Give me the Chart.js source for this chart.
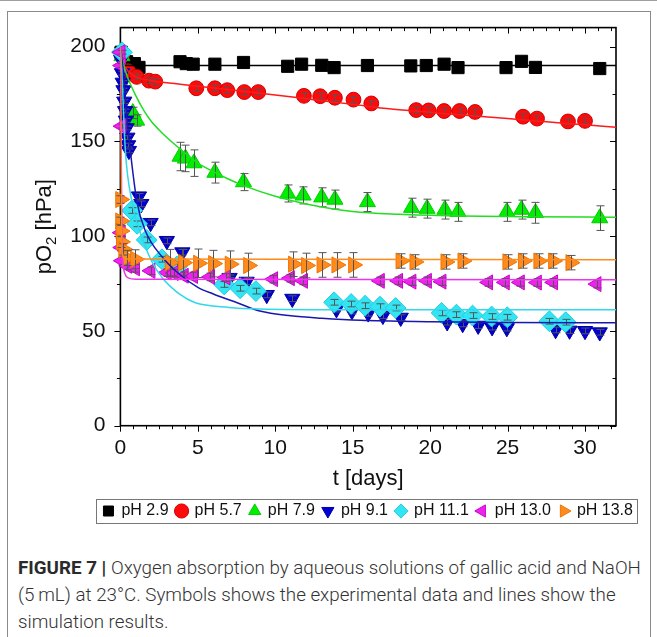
<!DOCTYPE html>
<html>
<head>
<meta charset="utf-8">
<script src="https://cdn.jsdelivr.net/npm/chart.js@4.4.1/dist/chart.umd.min.js"></script>
<style>
  html, body { margin: 0; padding: 0; background: #fff; }
  body { width: 657px; height: 637px; position: relative; overflow: hidden; }
  #topline { position: absolute; left: 0; top: 0; width: 657px; height: 1px; background: #a0a0a0; }
  #frame { position: absolute; left: 7px; top: 11px; width: 644px; height: 700px; border: 1px solid #8a8a8a; box-sizing: border-box; }
  #plot { position: absolute; left: 0; top: 0; }
  #caption { position: absolute; left: 18px; top: 555px; color: #333; font-family: "Roboto", "Liberation Sans", sans-serif; font-weight: 300; font-size: 17px; line-height: 27px; white-space: nowrap; }
  #caption b { font-weight: 700; color: #2a2a2a; }
</style>
</head>
<body>
<div id="topline"></div>
<div id="frame"></div>
<canvas id="plot" width="657" height="540"></canvas>
<div id="caption">
  <div id="cap1"><b>FIGURE 7 |</b> Oxygen absorption by aqueous solutions of gallic acid and NaOH</div>
  <div>(5&#8201;mL) at 23&deg;C. Symbols shows the experimental data and lines show the</div>
  <div>simulation results.</div>
</div>
<script>
// ---- measured oxygen partial pressure (t in days, pO2 in hPa, err = error bar half-height) ----
const t29 = [0.05, 0.4, 0.9, 1.2, 3.85, 4.25, 4.7, 6.1, 7.95, 10.8, 11.7, 13.0, 13.8, 15.95, 18.75, 19.75, 20.9, 21.8, 24.9, 25.9, 26.8, 30.95];
const p29 = [197, 192, 191, 189, 192, 191, 190.7, 190.7, 191.6, 189.6, 190.7, 190.1, 188.9, 190, 189.8, 190, 190.7, 188.9, 188.9, 192.2, 189, 188.4];

const t57 = [0.1, 0.5, 1.05, 1.85, 2.25, 4.9, 6.1, 6.9, 8.0, 8.9, 11.85, 12.9, 13.85, 15.05, 16.2, 19.1, 19.9, 20.9, 21.9, 22.9, 26.0, 26.9, 28.9, 30.0];
const p57 = [195, 187, 184, 182, 181.5, 178, 178, 177, 176, 176, 174, 173.8, 173, 172, 170, 166.5, 166.3, 166, 166, 165.5, 163, 162, 160.5, 160.8];
const e57 = [1, 1, 1.5, 1.5, 1.5, 1.5, 1.5, 1.5, 1.5, 1.5, 1.5, 1.5, 1.5, 1.5, 1.5, 1.5, 1.5, 1.5, 1.5, 1.5, 1.5, 1.5, 1.5, 1.5];

const t79 = [0.1, 0.8, 1.05, 3.85, 4.2, 4.75, 6.1, 7.95, 10.8, 11.8, 13.0, 13.85, 15.95, 18.8, 19.8, 20.95, 21.8, 24.95, 25.9, 26.8, 30.95];
const p79 = [195, 165, 161, 142, 141, 138.5, 133.5, 128.5, 122.5, 121.5, 120.5, 119.3, 118, 115, 114.5, 114, 112.8, 112.8, 114, 112.3, 109.5];
const e79 = [2, 3, 3, 7.5, 7, 7, 5.5, 4.5, 4.5, 4.5, 5, 5, 5, 5, 5, 5, 5, 5, 5, 5.5, 6.5];

const t91 = [0.05, 0.1, 0.15, 0.2, 0.25, 0.3, 0.35, 0.4, 0.45, 0.5, 0.55, 1.2, 1.35, 1.95, 3.0, 4.0, 7.05, 8.15, 9.45, 11.1, 13.95, 14.95, 16.0, 16.95, 18.1, 21.1, 22.1, 23.1, 24.0, 24.95, 28.1, 29.0, 30.0, 30.95];
const p91 = [193, 186, 181, 177, 171, 166, 161, 157, 152, 148, 145, 121, 117, 107, 97.5, 91.5, 78, 76, 69, 67, 61.5, 60.5, 59.3, 58, 57, 54.6, 53.7, 52.8, 52, 51.5, 50.5, 50.2, 50, 49.3];
const e91 = [1, 1, 1, 1, 1, 1, 1, 1, 1, 1, 1, 1.5, 1.5, 1.5, 1.5, 1.5, 1.5, 1.5, 1.5, 1.5, 1.5, 1.5, 1.5, 1.5, 1.5, 1.5, 1.5, 1.5, 1.5, 1.5, 1.5, 1.5, 1.5, 1.5];

const t111 = [0.1, 0.75, 1.08, 1.7, 2.68, 3.65, 6.7, 7.73, 8.75, 13.8, 14.9, 15.8, 16.76, 17.77, 20.74, 21.7, 22.74, 23.97, 24.98, 27.7, 28.75];
const p111 = [197, 113.5, 106.5, 98, 87.8, 84, 74.5, 72.5, 71, 65.1, 64.2, 63.3, 62.8, 62.1, 59.5, 58.6, 58.1, 57.6, 57.2, 55.1, 54.6];
const e111 = [1, 1.5, 1.5, 1.5, 1.5, 1.5, 1.5, 1.5, 1.5, 1.5, 1.5, 1.5, 1.5, 1.5, 1.5, 1.5, 1.5, 1.5, 1.5, 1.5, 1.5];

const t130 = [0.02, 0.03, 0.05, 0.06, 0.08, 0.1, 0.45, 0.95, 1.95, 3.0, 3.45, 4.1, 4.7, 5.8, 6.8, 9.87, 10.95, 11.8, 16.76, 17.94, 18.8, 19.8, 20.74, 23.75, 24.83, 25.8, 26.9, 27.95, 30.75];
const p130 = [197, 101.8, 190, 94, 158, 87, 84.3, 83, 81.7, 80.8, 80.5, 79.1, 79, 78.5, 78.2, 77.3, 77.8, 76.4, 76.4, 76.4, 76, 76.4, 76, 75.6, 75.6, 75.6, 75.5, 75.6, 74.7];
const e130 = [1, 2, 1, 2, 1, 2, 2, 2, 2, 2, 2, 2, 2, 2, 2, 2, 2, 2, 2, 2, 2, 2, 2, 2, 2, 2, 2, 2, 2];

const t138 = [0, 0, 0.02, 0.05, 0.2, 0.43, 0.96, 3.2, 4.06, 5.03, 6.0, 7.07, 8.26, 11.16, 12.0, 13.0, 13.96, 15.04, 18.1, 19.0, 21.0, 22.1, 25.0, 26.0, 27.0, 27.95, 29.07];
const p138 = [119.3, 108, 102.7, 97, 93, 88.5, 87.8, 86, 86, 85.7, 85.5, 85.2, 84.5, 85.2, 84.5, 84.8, 84.8, 84.8, 86.9, 86.4, 86.4, 86.9, 86.4, 86.9, 86.9, 86.9, 86];
const e138 = [2, 2, 3, 3, 3, 4, 5, 7, 7, 7.5, 7, 7, 6.5, 6.5, 6.5, 6.5, 6.5, 6.5, 3.8, 3.8, 3.8, 3.8, 3.8, 3.8, 3.8, 3.8, 3.8];

// ---- simulated curves ----
const simT29 = [0.05, 32];
const simP29 = [190, 190];
const simT57 = [0, 0.2, 0.5, 1, 2, 3.5, 5, 7.5, 10, 12.5, 15, 17.5, 20, 22.5, 25, 27.5, 30, 32];
const simP57 = [198, 191, 187, 184, 182, 180.5, 179, 176.8, 174.5, 172, 169.5, 167, 165.3, 163.6, 162, 160.3, 158.7, 157.4];
const simT79 = [0, 0.25, 0.5, 1, 1.5, 2, 2.5, 3, 4, 5, 6, 7, 8, 10, 12, 15, 18, 22, 26, 32];
const simP79 = [197, 189, 183, 174, 166.5, 160.5, 156, 152, 145, 138.5, 134, 130, 126.5, 121, 117, 113, 111.5, 110.6, 110.2, 110];
const simT91 = [0, 0.2, 0.4, 0.64, 1.07, 1.6, 2.7, 3.8, 5, 6, 7.5, 9, 11, 13, 15.5, 20, 25, 32];
const simP91 = [200, 186, 164, 145, 118, 103, 89, 80, 73, 69.5, 65, 60.5, 58, 56.7, 55.6, 54.9, 54.5, 54.3];
const simT111 = [0, 0.1, 0.32, 0.75, 1.4, 2.0, 2.7, 3.8, 4.8, 7, 9, 15, 32];
const simP111 = [200, 185, 145, 118, 99, 87, 78, 69.5, 65, 62.4, 61.6, 61.2, 61.1];
const simT130 = [0, 0.05, 0.1, 0.18, 0.3, 0.5, 1, 32];
const simP130 = [200, 150, 100, 85, 80, 78, 77.3, 77];
const simT138 = [0, 0.03, 0.08, 0.15, 0.3, 32];
const simP138 = [200, 150, 100, 90, 88, 87.5];

// ---- axes ----
const xTicks = [0, 5, 10, 15, 20, 25, 30];
const yTicks = [0, 50, 100, 150, 200];
const seriesLabels = ['pH 2.9', 'pH 5.7', 'pH 7.9', 'pH 9.1', 'pH 11.1', 'pH 13.0', 'pH 13.8'];

const FONT = '"Liberation Sans", Arial, sans-serif';

const measured = [
  [t29, p29, null], [t57, p57, e57], [t79, p79, e79], [t91, p91, e91],
  [t111, p111, e111], [t130, p130, e130], [t138, p138, e138]
];
const simulated = [
  [simT29, simP29], [simT57, simP57], [simT79, simP79], [simT91, simP91],
  [simT111, simP111], [simT130, simP130], [simT138, simP138]
];
const looks = [
  { fill: '#000000', edge: '#000000', line: '#000000', shape: 'rect',     r: 8.6,  rot: 0 },
  { fill: '#ff0a0a', edge: '#d00000', line: '#ff1a1a', shape: 'circle',   r: 7.4,  rot: 0 },
  { fill: '#00ee00', edge: '#00cc00', line: '#22dd22', shape: 'triangle', r: 9.3,  rot: 0 },
  { fill: '#0000d0', edge: '#0000a8', line: '#1818b0', shape: 'triangle', r: 8.8,  rot: 180 },
  { fill: '#33e4f2', edge: '#20cde0', line: '#30d8ea', shape: 'rectRot',  r: 10.4, rot: 0 },
  { fill: '#ee22ee', edge: '#cc00cc', line: '#ee33ee', shape: 'triangle', r: 8.6,  rot: -90 },
  { fill: '#ff8a1e', edge: '#ee7400', line: '#ff8a1e', shape: 'triangle', r: 9.3,  rot: 90 }
];

const datasets = [];
measured.forEach(([ts, ps, es], i) => {
  const lk = looks[i];
  datasets.push({
    label: seriesLabels[i],
    data: ts.map((t, k) => ({ x: t, y: ps[k], err: es ? es[k] : 0 })),
    pointStyle: lk.shape,
    pointRotation: lk.rot,
    pointRadius: lk.r,
    pointHoverRadius: lk.r,
    backgroundColor: lk.fill,
    borderColor: lk.edge,
    pointBorderWidth: 1,
    showLine: false,
    clip: false,
    order: 100 - i
  });
});
simulated.forEach(([ts, ps], i) => {
  datasets.push({
    label: 'sim ' + seriesLabels[i],
    data: ts.map((t, k) => ({ x: t, y: ps[k] })),
    showLine: true,
    borderColor: looks[i].line,
    borderWidth: 1.5,
    pointRadius: 0,
    cubicInterpolationMode: 'monotone',
    order: 10 - i
  });
});

// error bars, drawn on top of each measured series
const errorBars = {
  id: 'errorBars',
  afterDatasetDraw(chart, args) {
    const ds = chart.data.datasets[args.index];
    if (ds.showLine) return;
    const { ctx } = chart;
    const xs = chart.scales.x, ys = chart.scales.y;
    ctx.save();
    ctx.strokeStyle = '#555';
    ctx.lineWidth = 1;
    ds.data.forEach(p => {
      if (!p.err) return;
      const px = Math.round(xs.getPixelForValue(p.x)) + 0.5;
      const y1 = ys.getPixelForValue(p.y + p.err);
      const y2 = ys.getPixelForValue(p.y - p.err);
      ctx.beginPath();
      ctx.moveTo(px, y1); ctx.lineTo(px, y2);
      ctx.moveTo(px - 4, y1); ctx.lineTo(px + 4, y1);
      ctx.moveTo(px - 4, y2); ctx.lineTo(px + 4, y2);
      ctx.stroke();
    });
    ctx.restore();
  }
};

// boxed frame with major/minor ticks on all four sides
const X_MINOR_PER_MAJOR = 6, Y_MINOR_PER_MAJOR = 2;
const MAJOR_LEN = 6, MINOR_LEN = 3.5;
const frameTicks = {
  id: 'frameTicks',
  beforeDatasetsDraw(chart) {
    const { ctx, chartArea: a } = chart;
    const xs = chart.scales.x, ys = chart.scales.y;
    ctx.save();
    ctx.strokeStyle = '#000';
    ctx.lineWidth = 1;
    ctx.beginPath();
    const xStep = (xTicks[1] - xTicks[0]) / X_MINOR_PER_MAJOR;
    for (let k = 0; k * xStep <= xs.max + 1e-9; k++) {
      const v = xTicks[0] + k * xStep;
      const len = k % X_MINOR_PER_MAJOR === 0 ? MAJOR_LEN : MINOR_LEN;
      const px = Math.round(xs.getPixelForValue(v)) + 0.5;
      ctx.moveTo(px, a.bottom); ctx.lineTo(px, a.bottom + len);
      ctx.moveTo(px, a.top); ctx.lineTo(px, a.top + len);
    }
    const yStep = (yTicks[1] - yTicks[0]) / Y_MINOR_PER_MAJOR;
    for (let k = 0; k * yStep <= ys.max + 1e-9; k++) {
      const v = yTicks[0] + k * yStep;
      const len = k % Y_MINOR_PER_MAJOR === 0 ? MAJOR_LEN : MINOR_LEN;
      const py = Math.round(ys.getPixelForValue(v)) + 0.5;
      ctx.moveTo(a.left, py); ctx.lineTo(a.left - len, py);
      ctx.moveTo(a.right, py); ctx.lineTo(a.right - len, py);
    }
    ctx.stroke();
    ctx.lineWidth = 1.6;
    ctx.strokeRect(a.left, a.top, a.right - a.left, a.bottom - a.top);
    ctx.restore();
  }
};

// y-axis title with a real subscript
const yTitle = {
  id: 'yTitle',
  afterDraw(chart) {
    const { ctx, chartArea: a } = chart;
    const big = '22px ' + FONT, small = '15px ' + FONT;
    ctx.save();
    ctx.fillStyle = '#111';
    ctx.textBaseline = 'alphabetic';
    ctx.font = big; const w1 = ctx.measureText('pO').width; const w3 = ctx.measureText(' [hPa]').width;
    ctx.font = small; const w2 = ctx.measureText('2').width;
    ctx.translate(51, (a.top + a.bottom) / 2);
    ctx.rotate(-Math.PI / 2);
    let x = -(w1 + w2 + w3) / 2;
    ctx.font = big; ctx.fillText('pO', x, 0); x += w1;
    ctx.font = small; ctx.fillText('2', x, 5); x += w2;
    ctx.font = big; ctx.fillText(' [hPa]', x, 0);
    ctx.restore();
  }
};

// legend centred under the plot, with a thin outline
const legendFrame = {
  id: 'legendFrame',
  afterLayout(chart) {
    const lg = chart.legend;
    const a = chart.chartArea;
    const w = lg.right - lg.left;
    lg.left = (a.left + a.right) / 2 - w / 2;
    lg.right = lg.left + w;
  },
  afterDraw(chart) {
    const hb = chart.legend.legendHitBoxes;
    if (!hb || !hb.length) return;
    const { ctx } = chart;
    const first = hb[0], last = hb[hb.length - 1];
    const x0 = first.left - 7, x1 = last.left + last.width + 5;
    const y0 = first.top - 4, y1 = first.top + first.height + 4;
    ctx.save();
    ctx.strokeStyle = '#777';
    ctx.lineWidth = 1;
    ctx.strokeRect(Math.round(x0) + 0.5, Math.round(y0) + 0.5, Math.round(x1 - x0), Math.round(y1 - y0));
    ctx.restore();
  }
};

new Chart(document.getElementById('plot'), {
  type: 'scatter',
  data: { datasets },
  plugins: [frameTicks, errorBars, yTitle, legendFrame],
  options: {
    responsive: false,
    animation: false,
    events: [],
    layout: { padding: { left: 0, right: 41, top: 27, bottom: 11 } },
    scales: {
      x: {
        type: 'linear', min: 0, max: 32,
        afterBuildTicks: s => { s.ticks = xTicks.map(v => ({ value: v })); },
        afterFit: s => { s.height = 69.3; },
        grid: { display: false, drawTicks: false },
        border: { display: false },
        ticks: { padding: 10, color: '#111', font: { family: FONT, size: 21 }, maxRotation: 0, autoSkip: false },
        title: { display: true, text: 't [days]', color: '#111', font: { family: FONT, size: 22 }, padding: { top: 0, bottom: 3 } }
      },
      y: {
        type: 'linear', min: 0, max: 210,
        afterBuildTicks: s => { s.ticks = yTicks.map(v => ({ value: v })); },
        afterFit: s => { s.width = 120.4; },
        grid: { display: false, drawTicks: false },
        border: { display: false },
        ticks: { padding: 15, color: '#111', font: { family: FONT, size: 21 }, autoSkip: false }
      }
    },
    plugins: {
      tooltip: { enabled: false },
      legend: {
        position: 'bottom',
        labels: {
          usePointStyle: true,
          boxWidth: 10,
          boxHeight: 10,
          padding: 8,
          color: '#111',
          font: { family: FONT, size: 16 },
          filter: item => item.datasetIndex < seriesLabels.length,
          sort: (a, b) => a.datasetIndex - b.datasetIndex
        }
      }
    }
  }
});

// fit caption's first line to the figure width
(function () {
  const cap = document.getElementById('caption');
  const line = document.getElementById('cap1');
  const span = document.createElement('span');
  span.innerHTML = line.innerHTML;
  line.innerHTML = '';
  line.appendChild(span);
  const target = 623;
  const w = span.getBoundingClientRect().width;
  if (w > 0) cap.style.fontSize = (17 * target / w).toFixed(2) + 'px';
})();
</script>
</body>
</html>
